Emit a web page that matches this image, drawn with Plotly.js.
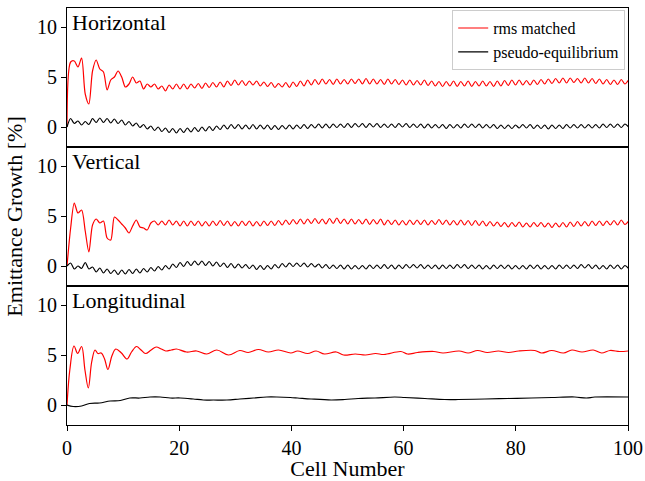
<!DOCTYPE html>
<html>
<head>
<meta charset="utf-8">
<script src="https://cdn.plot.ly/plotly-3.0.1.min.js"></script>
<style>html,body{margin:0;padding:0;background:#fff;}#chart{width:645px;height:481px;}</style>
</head>
<body>
<div id="chart"></div>
<script>
// sampling step (cells) of the horizontal / vertical series
const STEP = 0.65;

const panelLabels = ["Horizontal", "Vertical", "Longitudinal"];
const seriesNames = ["rms matched", "pseudo-equilibrium"];
const xTicks = [0, 20, 40, 60, 80, 100];
const yTicks = [0, 5, 10];

const horizRms = [0,6.5,6.6,6.0,6.9,3.3,2.3,5.6,6.7,5.8,5.5,3.7,4.7,5.0,5.6,5.0,4.0,4.3,5.0,4.4,
4.6,3.8,4.3,4.0,4.3,3.8,4.1,3.6,4.2,3.8,4.3,3.8,4.3,3.8,4.3,3.9,4.35,3.85,4.4,3.95,
4.45,4.0,4.5,4.0,4.6,4.15,4.7,4.2,4.65,4.15,4.6,4.2,4.6,4.1,4.5,4.05,4.45,3.95,4.35,4.0,
4.45,3.95,4.5,4.05,4.6,4.1,4.7,4.2,4.75,4.25,4.8,4.3,4.75,4.25,4.8,4.3,4.75,4.3,4.8,4.35,
4.8,4.3,4.85,4.3,4.8,4.3,4.75,4.25,4.8,4.3,4.75,4.25,4.7,4.2,4.7,4.2,4.65,4.2,4.7,4.15,
4.6,4.1,4.55,4.05,4.55,4.1,4.6,4.05,4.55,4.1,4.6,4.05,4.55,4.1,4.6,4.1,4.55,4.05,4.6,4.1,
4.65,4.15,4.7,4.2,4.7,4.2,4.65,4.2,4.7,4.25,4.75,4.3,4.8,4.35,4.85,4.4,4.9,4.4,4.9,4.45,
4.85,4.4,4.9,4.4,4.85,4.35,4.8,4.3,4.75,4.25,4.7,4.25,4.75,4.3,4.7];

const horizPseudo = [0,0.85,0.35,0.6,0.2,0.55,0.25,0.85,0.45,0.9,0.45,0.85,0.4,0.8,0.35,0.7,0.2,0.55,0.1,0.4,
-0.05,0.25,-0.2,0.1,-0.35,0.0,-0.45,-0.1,-0.55,-0.15,-0.6,-0.15,-0.55,-0.1,-0.5,-0.05,-0.45,0.0,-0.4,0.05,
-0.35,0.1,-0.25,0.2,-0.2,0.25,-0.15,0.25,-0.2,0.2,-0.2,0.25,-0.2,0.2,-0.2,0.2,-0.25,0.15,-0.25,0.15,
-0.2,0.2,-0.2,0.2,-0.15,0.25,-0.15,0.25,-0.1,0.3,-0.1,0.3,-0.1,0.3,-0.05,0.3,-0.05,0.35,-0.05,0.35,
0.0,0.35,-0.05,0.35,0.0,0.35,-0.05,0.3,-0.05,0.3,-0.05,0.35,0.0,0.35,-0.05,0.3,-0.05,0.3,-0.1,0.3,
-0.1,0.25,-0.1,0.25,-0.15,0.25,-0.1,0.25,-0.1,0.3,-0.05,0.3,-0.05,0.3,-0.1,0.25,-0.1,0.25,-0.15,0.2,
-0.15,0.2,-0.15,0.2,-0.1,0.25,-0.1,0.25,-0.15,0.2,-0.15,0.2,-0.2,0.2,-0.15,0.2,-0.15,0.25,-0.1,0.25,
-0.1,0.25,-0.1,0.25,-0.1,0.25,-0.1,0.3,-0.05,0.3,-0.05,0.3,-0.05,0.3,0.0];

const vertRms = [0,3.8,6.3,5.3,5.6,3.5,1.4,4.1,4.7,4.3,4.5,2.8,2.6,4.9,4.6,4.2,3.8,3.3,4.0,4.6,
3.9,3.8,3.6,4.3,4.5,4.1,4.5,4.1,4.6,4.1,4.5,4.0,4.5,4.0,4.5,4.05,4.5,4.0,4.45,4.0,
4.5,4.05,4.55,4.05,4.5,4.0,4.45,4.0,4.5,4.05,4.5,4.0,4.45,4.0,4.5,4.05,4.5,4.05,4.55,4.1,
4.6,4.15,4.65,4.2,4.7,4.2,4.7,4.25,4.75,4.25,4.7,4.2,4.75,4.25,4.8,4.25,4.7,4.2,4.7,4.2,
4.65,4.2,4.7,4.15,4.65,4.2,4.7,4.1,4.6,4.15,4.6,4.1,4.55,4.1,4.6,4.15,4.6,4.15,4.6,4.1,
4.55,4.15,4.65,4.15,4.6,4.1,4.55,4.1,4.6,4.1,4.55,4.05,4.55,4.05,4.5,4.0,4.45,4.0,4.4,3.95,
4.35,3.9,4.35,3.95,4.4,3.9,4.3,3.9,4.35,3.95,4.35,3.9,4.3,3.85,4.3,3.9,4.35,3.9,4.4,3.95,
4.45,4.0,4.45,4.0,4.5,4.05,4.5,4.05,4.5,4.1,4.55,4.1,4.6,4.15,4.5];

const vertPseudo = [0,0.3,-0.3,0.0,-0.25,0.35,-0.3,-0.1,-0.6,-0.2,-0.7,-0.3,-0.75,-0.4,-0.85,-0.4,-0.8,-0.35,-0.75,-0.3,
-0.7,-0.25,-0.6,-0.15,-0.5,-0.05,-0.4,0.05,-0.3,0.2,-0.15,0.35,-0.05,0.45,0.05,0.5,0.1,0.5,0.05,0.45,
0.0,0.4,-0.05,0.3,-0.15,0.25,-0.2,0.2,-0.2,0.15,-0.25,0.1,-0.35,0.05,-0.35,0.05,-0.3,0.15,-0.2,0.25,
-0.1,0.3,-0.05,0.3,-0.05,0.3,-0.1,0.25,-0.1,0.2,-0.2,0.15,-0.25,0.1,-0.25,0.1,-0.3,0.1,-0.3,0.05,
-0.3,0.05,-0.3,0.1,-0.25,0.1,-0.25,0.15,-0.25,0.1,-0.3,0.1,-0.25,0.15,-0.2,0.15,-0.2,0.15,-0.25,0.1,
-0.25,0.1,-0.3,0.1,-0.25,0.1,-0.25,0.15,-0.2,0.15,-0.25,0.1,-0.25,0.1,-0.3,0.05,-0.3,0.1,-0.25,0.1,
-0.25,0.1,-0.3,0.05,-0.3,0.05,-0.3,0.1,-0.25,0.1,-0.3,0.05,-0.3,0.05,-0.3,0.1,-0.25,0.1,-0.25,0.1,
-0.25,0.15,-0.2,0.15,-0.25,0.1,-0.3,0.05,-0.3,0.1,-0.25,0.1,-0.3,0.05,-0.25];

const longRmsX = [0,0.5,1.25,1.9,2.6,3.2,3.8,4.4,5.0,5.5,6.1,6.7,7.3,8.0,8.7,9.7,10.7,11.5,12.4,13.2,
14.0,15.0,15.9,16.8,17.6,18.6,19.5,21.3,23.1,24.9,26.7,28.8,30.8,32.3,34.1,35.9,37.7,39.9,41.1,42.9,
44.4,45.9,48.0,49.3,51.4,53.2,55.0,56.5,59.5,60.7,62.5,65.4,67.0,69.9,71.5,73.2,74.9,76.9,78.7,80.5,
83.4,84.6,86.4,88.5,90.0,91.8,93.8,95.3,96.8,98.5,100];
const longRms = [0,3.5,5.9,5.15,5.85,3.5,1.7,4.3,5.5,5.15,5.2,4.6,3.55,4.9,5.6,5.2,4.6,5.3,5.85,5.5,
5.15,5.5,5.8,5.6,5.4,5.5,5.6,5.3,5.4,5.1,5.5,5.0,5.45,5.25,5.55,5.3,5.5,5.2,5.4,5.15,
5.4,5.1,5.3,5.0,5.1,5.0,5.15,5.05,5.35,5.1,5.25,5.35,5.2,5.4,5.2,5.45,5.25,5.4,5.25,5.4,
5.45,5.2,5.45,5.2,5.5,5.3,5.5,5.2,5.45,5.35,5.4];

const longPseudoX = [0,1.1,2.6,4.0,5.8,7.7,9.5,11.2,13.0,14.8,16.6,18.4,20.2,22.5,24.3,26.1,28.5,30.8,33.2,35.6,
37.4,39.8,41.1,43.5,47.1,49.5,51.9,54.9,58.4,60.2,63.8,67.3,69.7,74.5,78.6,82.8,86.4,90.5,92.6,94.1,100];
const longPseudo = [0,-0.15,-0.1,0.15,0.2,0.4,0.45,0.7,0.7,0.8,0.8,0.7,0.7,0.6,0.5,0.5,0.5,0.6,0.7,0.8,
0.8,0.75,0.7,0.6,0.5,0.55,0.65,0.7,0.8,0.75,0.65,0.55,0.55,0.6,0.65,0.7,0.75,0.8,0.7,0.8,0.8];

const RED = "#ff0000", BLACK = "#000000";
const FONT = "'Liberation Serif', 'Times New Roman', Times, serif";

const traces = [
  {y: horizRms, x0: 0, dx: STEP, xaxis: "x", yaxis: "y", name: seriesNames[0], showlegend: true,
   line: {color: RED, width: 1.2, shape: "spline", smoothing: 0.8}, mode: "lines", legendgroup: "a"},
  {y: horizPseudo, x0: 0, dx: STEP, xaxis: "x", yaxis: "y", name: seriesNames[1], showlegend: true,
   line: {color: BLACK, width: 1.2, shape: "spline", smoothing: 0.8}, mode: "lines", legendgroup: "b"},
  {y: vertRms, x0: 0, dx: STEP, xaxis: "x2", yaxis: "y2", name: seriesNames[0], showlegend: false,
   line: {color: RED, width: 1.2, shape: "spline", smoothing: 0.8}, mode: "lines", legendgroup: "a"},
  {y: vertPseudo, x0: 0, dx: STEP, xaxis: "x2", yaxis: "y2", name: seriesNames[1], showlegend: false,
   line: {color: BLACK, width: 1.2, shape: "spline", smoothing: 0.8}, mode: "lines", legendgroup: "b"},
  {x: longRmsX, y: longRms, xaxis: "x3", yaxis: "y3", name: seriesNames[0], showlegend: false,
   line: {color: RED, width: 1.2, shape: "spline", smoothing: 1}, mode: "lines", legendgroup: "a"},
  {x: longPseudoX, y: longPseudo, xaxis: "x3", yaxis: "y3", name: seriesNames[1], showlegend: false,
   line: {color: BLACK, width: 1.2, shape: "spline", smoothing: 1}, mode: "lines", legendgroup: "b"}
];

function xax(anchor, showLabels) {
  return {
    domain: [0, 1], anchor: anchor, range: [0, 100], matches: anchor === "y3" ? undefined : "x3",
    showline: true, mirror: true, linecolor: BLACK, linewidth: 1.1,
    ticks: showLabels ? "outside" : "", ticklen: 5, tickwidth: 1, tickcolor: BLACK,
    tickvals: xTicks, showticklabels: showLabels,
    tickfont: {family: FONT, size: 20, color: BLACK},
    showgrid: false, zeroline: false
  };
}
function yax(anchor, domain) {
  return {
    domain: domain, anchor: anchor, range: [-2, 11.9],
    showline: true, mirror: true, linecolor: BLACK, linewidth: 1.1,
    ticks: "outside", ticklen: 5, tickwidth: 1, tickcolor: BLACK,
    tickvals: yTicks, tickfont: {family: FONT, size: 20, color: BLACK},
    showgrid: false, zeroline: false
  };
}

const layout = {
  width: 645, height: 481,
  margin: {l: 67, r: 17, t: 8, b: 56},
  paper_bgcolor: "#fff", plot_bgcolor: "#fff",
  font: {family: FONT, color: BLACK},
  xaxis: xax("y", false),
  xaxis2: xax("y2", false),
  xaxis3: Object.assign(xax("y3", true), {title: {text: "Cell Number", font: {family: FONT, size: 22, color: BLACK}, standoff: 2}}),
  yaxis: yax("x", [2/3, 1]),
  yaxis2: Object.assign(yax("x2", [1/3, 2/3]), {title: {text: "Emittance Growth [%]", font: {family: FONT, size: 22, color: BLACK}, standoff: 8}}),
  yaxis3: yax("x3", [0, 1/3]),
  showlegend: true,
  legend: {x: 0.995, y: 0.995, xanchor: "right", yanchor: "top",
    bgcolor: "rgba(255,255,255,0.9)", bordercolor: "#cccccc", borderwidth: 1,
    font: {family: FONT, size: 16, color: BLACK}, itemwidth: 30, tracegroupgap: 0},
  annotations: panelLabels.map((t, i) => ({
    text: t, xref: (i === 0 ? "x" : "x" + (i + 1)) + " domain", yref: (i === 0 ? "y" : "y" + (i + 1)) + " domain",
    x: 0.005, y: 1, xanchor: "left", yanchor: "top", showarrow: false,
    font: {family: FONT, size: 22, color: BLACK}
  }))
};

Plotly.newPlot("chart", traces, layout, {displayModeBar: false, staticPlot: true});
</script>
</body>
</html>
